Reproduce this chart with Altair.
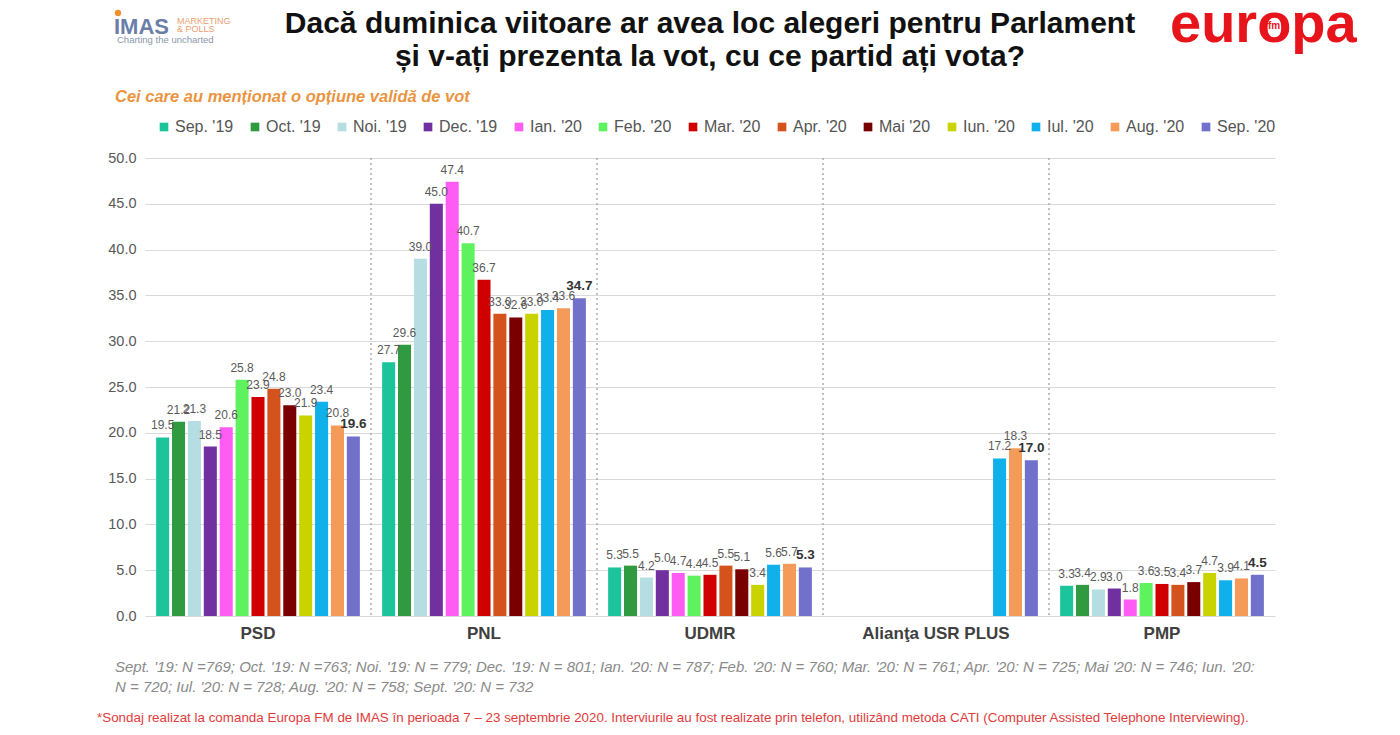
import altair as alt
import pandas as pd

months = ["Sep. '19", "Oct. '19", "Noi. '19", "Dec. '19", "Ian. '20", "Feb. '20",
          "Mar. '20", "Apr. '20", "Mai '20", "Iun. '20", "Iul. '20", "Aug. '20", "Sep. '20"]
month_colors = ["#1cc49b", "#2f9a3f", "#b5dde2", "#7030a0", "#ff5cf3", "#5ef25e",
                "#d10000", "#d4531d", "#7a0000", "#c8d300", "#10b0ea", "#f59b5a", "#7171cc"]
parties = ["PSD", "PNL", "UDMR", "Alianţa USR PLUS", "PMP"]

psd = [19.5, 21.2, 21.3, 18.5, 20.6, 25.8, 23.9, 24.8, 23.0, 21.9, 23.4, 20.8, 19.6]
pnl = [27.7, 29.6, 39.0, 45.0, 47.4, 40.7, 36.7, 33.0, 32.6, 33.0, 33.4, 33.6, 34.7]
udmr = [5.3, 5.5, 4.2, 5.0, 4.7, 4.4, 4.5, 5.5, 5.1, 3.4, 5.6, 5.7, 5.3]
usr = [None, None, None, None, None, None, None, None, None, None, 17.2, 18.3, 17.0]
pmp = [3.3, 3.4, 2.9, 3.0, 1.8, 3.6, 3.5, 3.4, 3.7, 4.7, 3.9, 4.1, 4.5]

title_lines = ["Dacă duminica viitoare ar avea loc alegeri pentru Parlament",
               "și v-ați prezenta la vot, cu ce partid ați vota?"]
subtitle = "Cei care au menționat o opțiune validă de vot"
note1 = ("Sept. '19: N =769; Oct. '19: N =763; Noi. '19: N = 779; Dec. '19: N = 801; Ian. '20: N = 787; "
         "Feb. '20: N = 760; Mar. '20: N = 761; Apr. '20: N = 725; Mai '20: N = 746; Iun. '20:")
note2 = "N = 720; Iul. '20: N = 728; Aug. '20: N = 758; Sept. '20: N = 732"
red1 = ("*Sondaj realizat la comanda Europa FM de IMAS în perioada  7 – 23 septembrie 2020. Interviurile au fost "
        "realizate prin telefon, utilizând metoda CATI (Computer Assisted Telephone Interviewing).")
red2 = "Pentru acest studiu au fost intervievate 1010 persoane cu vârsta de 18 ani și peste. Marja de eroare este de +/- 3,1%."

rows = []
for party, series in zip(parties, [psd, pnl, udmr, usr, pmp]):
    for m, v in zip(months, series):
        if v is not None:
            rows.append({"party": party, "month": m, "value": v})
df = pd.DataFrame(rows)

FONT = "Liberation Sans"

x_axis = alt.Axis(title=None, labelAngle=0, labelFontWeight="bold", labelFontSize=17,
                  labelColor="#404040", ticks=False, domain=False, grid=False,
                  labelPadding=9, labelFont=FONT)
x_scale = alt.Scale(domain=parties, paddingInner=0, paddingOuter=0)
x_enc = alt.X("party:N", sort=parties, scale=x_scale, axis=x_axis)
xo_enc = alt.XOffset("month:N", sort=months,
                     scale=alt.Scale(domain=months, paddingInner=0.18, paddingOuter=0.7))
y_enc = alt.Y("value:Q", scale=alt.Scale(domain=[0, 50], nice=False),
              axis=alt.Axis(title=None, values=[0, 5, 10, 15, 20, 25, 30, 35, 40, 45, 50], format=".1f",
                            grid=True, gridColor="#d9d9d9", domain=False, ticks=False,
                            labelFontSize=14.5, labelColor="#595959", labelPadding=9, labelFont=FONT))

base = alt.Chart(df)

bars = base.mark_bar().encode(
    x=x_enc, xOffset=xo_enc, y=y_enc,
    color=alt.Color("month:N", sort=months,
                    scale=alt.Scale(domain=months, range=month_colors),
                    legend=alt.Legend(orient="none", legendX=11, legendY=-39, direction="horizontal",
                                      columns=13, title=None, symbolType="square", symbolSize=75,
                                      labelFontSize=16, labelColor="#555555", labelFont=FONT,
                                      columnPadding=13, labelOffset=3, symbolStrokeWidth=0))
)

labels = base.transform_filter(alt.datum.month != "Sep. '20").mark_text(
    baseline="bottom", dy=-5, fontSize=12, color="#5a5a5a", font=FONT
).encode(x=x_enc, xOffset=xo_enc, y=y_enc, text=alt.Text("value:Q", format=".1f"))

labels_bold = base.transform_filter(alt.datum.month == "Sep. '20").mark_text(
    baseline="bottom", dy=-5, fontSize=13.5, fontWeight="bold", color="#333333", font=FONT
).encode(x=x_enc, xOffset=xo_enc, y=y_enc, text=alt.Text("value:Q", format=".1f"))

sep_df = pd.DataFrame({"party": parties[1:]})
seps = alt.Chart(sep_df).mark_rule(color="#9a9a9a", strokeDash=[2, 3], strokeWidth=1.2).encode(
    x=alt.X("party:N", sort=parties, bandPosition=0, scale=x_scale, axis=x_axis)
)


def txt(text, x, y, **kw):
    return alt.Chart(alt.Data(values=[{}])).mark_text(text=text, **kw).encode(
        x=alt.value(x), y=alt.value(y))


ann = [
    txt(title_lines[0], 565, -134, fontSize=30, fontWeight="bold", color="#111111", font=FONT, align="center"),
    txt(title_lines[1], 565, -101, fontSize=30, fontWeight="bold", color="#111111", font=FONT, align="center"),
    txt(subtitle, -30, -61, fontSize=16.5, fontWeight="bold", fontStyle="italic", color="#eb9440",
        font=FONT, align="left"),
    txt(note1, -30, 509, fontSize=15, fontStyle="italic", color="#8a8a8a", font=FONT, align="left"),
    txt(note2, -30, 529, fontSize=15, fontStyle="italic", color="#8a8a8a", font=FONT, align="left"),
    txt(red1, -48, 560, fontSize=13.4, color="#e23b3b", font=FONT, align="left"),
    txt(red2, -48, 578, fontSize=13.4, color="#e23b3b", font=FONT, align="left"),
    # IMAS logo
    alt.Chart(alt.Data(values=[{}])).mark_point(filled=True, shape="circle", size=40, color="#f0902a",
                                                opacity=1).encode(x=alt.value(-27), y=alt.value(-145)),
    txt("IMAS", -31, -131, fontSize=22, color="#6b7ea8", font=FONT, align="left", fontWeight="bold"),
    txt("MARKETING", 32, -137, fontSize=9, color="#e8a070", font=FONT, align="left"),
    txt("& POLLS", 32, -129, fontSize=9, color="#e8a070", font=FONT, align="left"),
    txt("Charting the uncharted", -28, -118, fontSize=9.5, color="#8b95aa", font=FONT, align="left"),
    # Europa FM logo
    txt("europa", 1025, -133, fontSize=56, fontWeight="bold", color="#e8141c", font=FONT, align="left"),
    txt("fm", 1129, -132, fontSize=10, fontWeight="bold", color="#e8141c", font=FONT, align="center"),
]

chart = alt.layer(bars, seps, labels, labels_bold, *ann).properties(
    width=1130, height=458,
    autosize=alt.AutoSizeParams(type="none"),
    padding={"left": 137, "top": 150, "right": 117, "bottom": 111},
    background="white",
).configure_view(stroke=None)

chart.save("out.html", embed_options={"renderer": "svg", "actions": False})
